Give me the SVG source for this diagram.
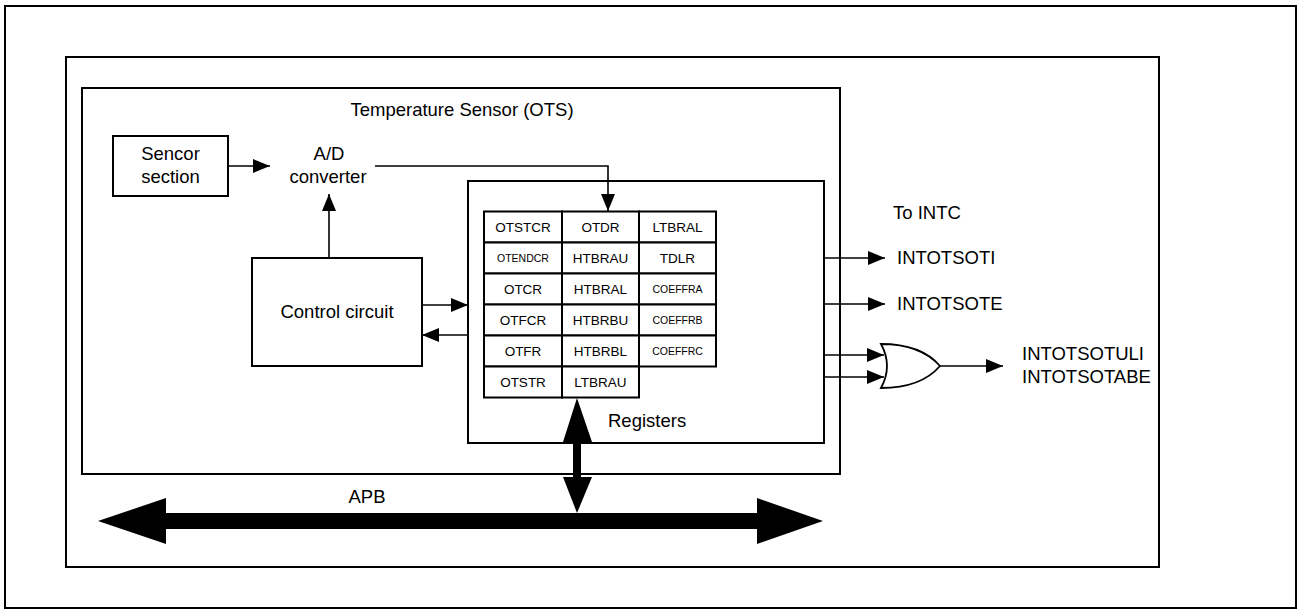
<svg xmlns="http://www.w3.org/2000/svg" width="1301" height="614" viewBox="0 0 1301 614">
<style>
.box{fill:none;stroke:#000;stroke-width:2}
.cell{fill:#fff;stroke:#000;stroke-width:2}
.ln{fill:none;stroke:#000;stroke-width:1.6}
.t{font-family:"Liberation Sans",Arial,sans-serif;font-size:18.5px;fill:#000}
.r{font-family:"Liberation Sans",Arial,sans-serif;font-size:13.5px;fill:#000;text-anchor:middle}
.rs{font-family:"Liberation Sans",Arial,sans-serif;font-size:10.5px;fill:#000;text-anchor:middle}
.m{text-anchor:middle}
</style>
<defs>
<marker id="arr" markerUnits="userSpaceOnUse" markerWidth="18" markerHeight="14" refX="17" refY="7" orient="auto" viewBox="0 0 18 14">
<path d="M0,0 L17,7 L0,14 Z" fill="#000"/>
</marker>
</defs>
<rect id="outer-frame" x="5" y="6" width="1291" height="602" class="box"/>
<rect id="system-frame" x="66" y="57" width="1093" height="510" class="box"/>
<g id="ots">
<rect x="82" y="88" width="758" height="386" class="box"/>
<text class="t m" x="462" y="116">Temperature Sensor (OTS)</text>
</g>
<g id="sencor">
<rect x="113" y="136" width="115" height="60" class="box"/>
<text class="t m" x="170.5" y="160">Sencor</text>
<text class="t m" x="170.5" y="183">section</text>
</g>
<g id="adc">
<text class="t m" x="329" y="160">A/D</text>
<text class="t m" x="328" y="183">converter</text>
</g>
<g id="control">
<rect x="252" y="258" width="170" height="108" class="box"/>
<text class="t m" x="337" y="318">Control circuit</text>
</g>
<g id="registers">
<rect x="468" y="181" width="356" height="262" class="box"/>
<text class="t" x="608" y="427">Registers</text>
<g id="reg-table">
<rect class="cell" x="484" y="211.5" width="78" height="31"/><rect class="cell" x="562" y="211.5" width="77" height="31"/><rect class="cell" x="639" y="211.5" width="77" height="31"/>
<rect class="cell" x="484" y="242.5" width="78" height="31"/><rect class="cell" x="562" y="242.5" width="77" height="31"/><rect class="cell" x="639" y="242.5" width="77" height="31"/>
<rect class="cell" x="484" y="273.5" width="78" height="31"/><rect class="cell" x="562" y="273.5" width="77" height="31"/><rect class="cell" x="639" y="273.5" width="77" height="31"/>
<rect class="cell" x="484" y="304.5" width="78" height="31"/><rect class="cell" x="562" y="304.5" width="77" height="31"/><rect class="cell" x="639" y="304.5" width="77" height="31"/>
<rect class="cell" x="484" y="335.5" width="78" height="31"/><rect class="cell" x="562" y="335.5" width="77" height="31"/><rect class="cell" x="639" y="335.5" width="77" height="31"/>
<rect class="cell" x="484" y="366.5" width="78" height="31"/><rect class="cell" x="562" y="366.5" width="77" height="31"/>
<text class="r" x="523" y="231.8">OTSTCR</text><text class="r" x="600.5" y="231.8">OTDR</text><text class="r" x="677.5" y="231.8">LTBRAL</text>
<text class="rs" x="523" y="261.8">OTENDCR</text><text class="r" x="600.5" y="262.8">HTBRAU</text><text class="r" x="677.5" y="262.8">TDLR</text>
<text class="r" x="523" y="293.8">OTCR</text><text class="r" x="600.5" y="293.8">HTBRAL</text><text class="rs" x="677.5" y="292.8">COEFFRA</text>
<text class="r" x="523" y="324.8">OTFCR</text><text class="r" x="600.5" y="324.8">HTBRBU</text><text class="rs" x="677.5" y="323.8">COEFFRB</text>
<text class="r" x="523" y="355.8">OTFR</text><text class="r" x="600.5" y="355.8">HTBRBL</text><text class="rs" x="677.5" y="354.8">COEFFRC</text>
<text class="r" x="523" y="386.8">OTSTR</text><text class="r" x="600.5" y="386.8">LTBRAU</text>
</g>
</g>
<g id="or-gate">
<path d="M881,344 Q893,366 881,388 Q921,388 940,366 Q921,344 881,344 Z" fill="#fff" stroke="#000" stroke-width="1.8"/>
</g>
<g id="labels">
<text class="t" x="893" y="219">To INTC</text>
<text class="t" x="897" y="264">INTOTSOTI</text>
<text class="t" x="897" y="310">INTOTSOTE</text>
<text class="t" x="1022" y="360">INTOTSOTULI</text>
<text class="t" x="1022" y="383">INTOTSOTABE</text>
<text class="t m" x="367" y="503">APB</text>
</g>
<g id="connectors">
<path class="ln" d="M228,166 H270" marker-end="url(#arr)"/>
<path class="ln" d="M375,166 H608 V211" marker-end="url(#arr)"/>
<path class="ln" d="M329,258 V194" marker-end="url(#arr)"/>
<path class="ln" d="M422,305 H468" marker-end="url(#arr)"/>
<path class="ln" d="M468,335 H422" marker-end="url(#arr)"/>
<path class="ln" d="M824,258 H885" marker-end="url(#arr)"/>
<path class="ln" d="M824,304 H885" marker-end="url(#arr)"/>
<path class="ln" d="M824,355 H884" marker-end="url(#arr)"/>
<path class="ln" d="M824,377 H884" marker-end="url(#arr)"/>
<path class="ln" d="M940,366 H1003" marker-end="url(#arr)"/>
<polygon points="577,398 592,442 581,442 581,477 592,477 577,513 563,477 573,477 573,442 563,442" fill="#000"/>
<polygon points="98,521 166,498 166,513 757,513 757,498 823,521 757,544 757,529 166,529 166,544" fill="#000"/>
</g>
</svg>
